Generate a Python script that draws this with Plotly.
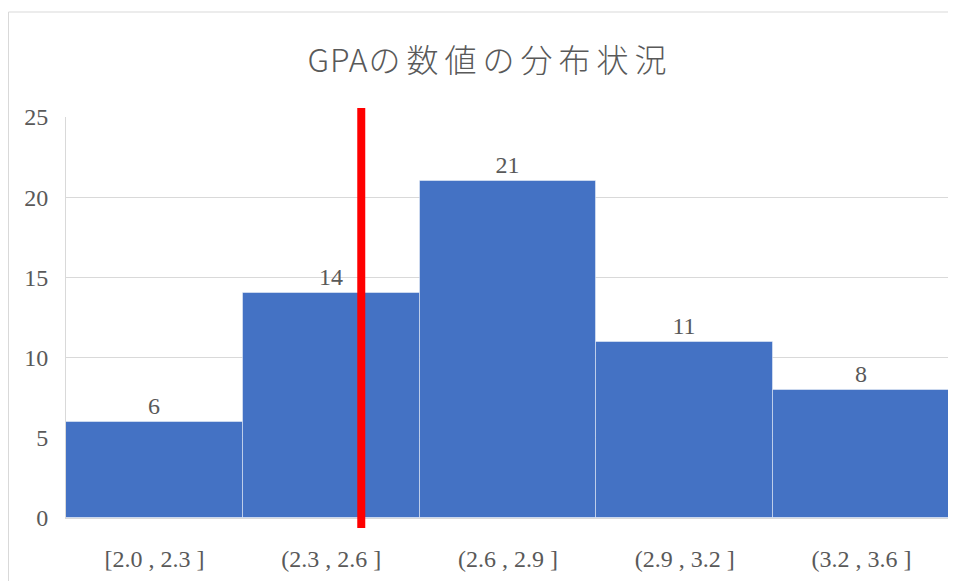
import plotly.graph_objects as go

categories = ["[2.0 , 2.3 ]", "(2.3 , 2.6 ]", "(2.6 , 2.9 ]", "(2.9 , 3.2 ]", "(3.2 , 3.6 ]"]
counts = [6, 14, 21, 11, 8]
y_ticks = [0, 5, 10, 15, 20, 25]
marker_pos = 1.17  # red reference line position (category units)
title_latin = "GPA"
title_jp = "の数値の分布状況"

# page has an ~8px body margin, so the figure is sized to fit the window
W, H = 948, 573
L, R, T, B = 58, 6, 109, 63
pw, ph = W - L - R, H - T - B

def px_x(px):
    return (px - L) / pw

def px_y(py):
    return (H - B - py) / ph

gray = "#595959"
serif = "Liberation Serif, DejaVu Serif, serif"

fig = go.Figure(go.Bar(
    x=list(range(len(categories))), y=counts,
    marker=dict(color="#4472C4", line=dict(color="rgba(255,255,255,0.45)", width=1)),
    text=[str(c) for c in counts], textposition="outside",
    textfont=dict(family=serif, size=24, color=gray),
    cliponaxis=False,
))

title_html = (f'<span style="letter-spacing:1px">{title_latin}</span>'
              f'<span style="letter-spacing:6px">{title_jp}</span>')

fig.update_layout(
    width=W, height=H,
    margin=dict(l=L, r=R, t=T, b=B),
    paper_bgcolor="white", plot_bgcolor="white",
    bargap=0,
    showlegend=False,
    title=dict(text=title_html, x=482 / W, xref="container", xanchor="center",
               y=1 - 53 / H, yref="container", yanchor="middle",
               font=dict(family="Noto Sans CJK JP, sans-serif", size=32, color=gray,
                         weight=300)),
    xaxis=dict(range=[-0.5, 4.5], tickmode="array", tickvals=list(range(len(categories))),
               ticktext=categories, showgrid=False, showline=True, linecolor="#d9d9d9",
               linewidth=1, ticks="", tickfont=dict(family=serif, size=24, color=gray),
               ticklabelstandoff=19, zeroline=False),
    yaxis=dict(range=[0, 25], tickmode="array", tickvals=y_ticks, showgrid=True,
               gridcolor="#d9d9d9", gridwidth=1, showline=True, linecolor="#d9d9d9",
               ticks="", tickfont=dict(family=serif, size=24, color=gray),
               ticklabelstandoff=12, zeroline=False),
)

# red reference line
fig.add_shape(type="line", xref="x", yref="paper", x0=marker_pos, x1=marker_pos,
              y0=px_y(520), y1=px_y(100), line=dict(color="#FF0000", width=8))

# chart-area border (left and top)
fig.add_shape(type="line", xref="paper", yref="paper", x0=px_x(0.5), x1=px_x(0.5),
              y0=px_y(H), y1=px_y(4), line=dict(color="#d9d9d9", width=1))
fig.add_shape(type="line", xref="paper", yref="paper", x0=px_x(0.5), x1=px_x(W),
              y0=px_y(4), y1=px_y(4), line=dict(color="#d9d9d9", width=1))

fig.write_html("out.html")
